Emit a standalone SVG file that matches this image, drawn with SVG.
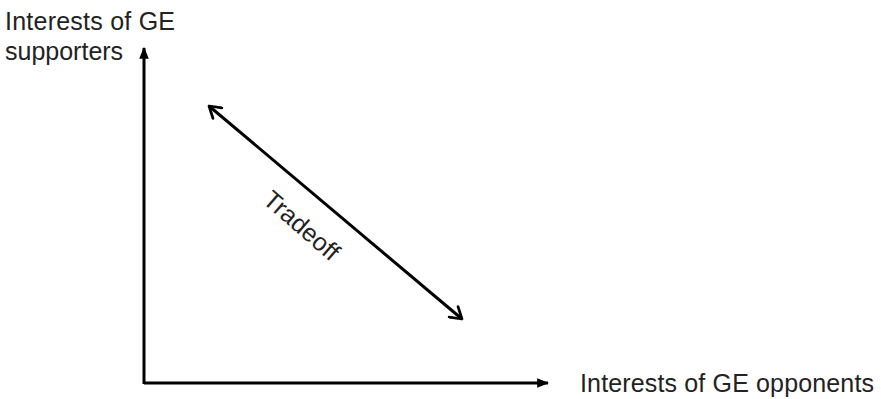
<svg xmlns="http://www.w3.org/2000/svg" width="881" height="399" viewBox="0 0 881 399">
<style>
text{font-family:"Liberation Sans",Arial,sans-serif;fill:#222;font-size:25px}
.ax{stroke:#000;stroke-width:3;fill:none}
</style>
<defs>
<marker id="tri" viewBox="0 0 10 10" refX="9" refY="5" markerWidth="4" markerHeight="4" orient="auto-start-reverse" markerUnits="strokeWidth"><path d="M0,1 L10,5 L0,9 z" fill="#000"/></marker>
<marker id="open" viewBox="0 0 12 12" refX="10" refY="6" markerWidth="5.5" markerHeight="5.5" orient="auto-start-reverse" markerUnits="strokeWidth"><path d="M2,1 L10,6 L2,11" fill="none" stroke="#000" stroke-width="2" stroke-linecap="round" stroke-linejoin="round"/></marker>
</defs>
<rect width="881" height="399" fill="#fff"/>
<g id="connectors">
<path class="ax" d="M144,384 V48" marker-end="url(#tri)"/>
<path class="ax" d="M144,383 H548" marker-end="url(#tri)"/>
<path class="ax" d="M209,106 L462,319" marker-start="url(#open)" marker-end="url(#open)"/>
</g>
<g id="ylabel"><text x="5" y="30" textLength="170">Interests of GE</text><text x="5" y="60">supporters</text></g>
<g id="xlabel"><text x="580" y="392" textLength="294">Interests of GE opponents</text></g>
<g id="tradeoff"><text transform="translate(296,232) rotate(41)" text-anchor="middle" font-size="23">Tradeoff</text></g>
</svg>
